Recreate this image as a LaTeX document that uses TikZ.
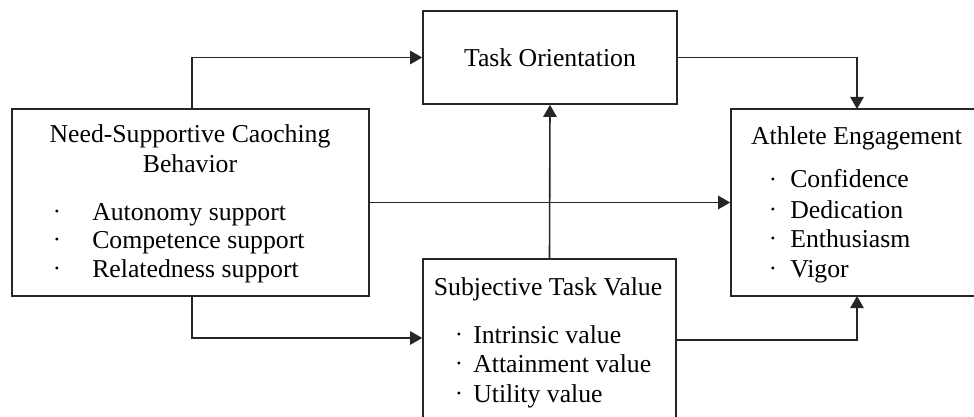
\documentclass[tikz,border=0pt]{standalone}
\usepackage{fontspec}
\setmainfont{Liberation Serif}
\usetikzlibrary{arrows.meta}
\begin{document}
\begin{tikzpicture}[x=0.75pt,y=-0.75pt,
  box/.style={draw=black!85,line width=1.2pt,rectangle,inner sep=0pt,fill=none},
  txt/.style={inner sep=0pt,font=\fontsize{19.3}{23}\selectfont},
  dot/.style={inner sep=0pt,font=\fontsize{9}{10}\selectfont},
  arr/.style={draw=black!85,line width=1.2pt,-{Triangle[length=9pt,width=10pt]}},
  ln/.style={draw=black!85,line width=1.2pt}]
\useasboundingbox (0,0) rectangle (974,417);
\clip (0,0) rectangle (974,417);
% boxes
\node[box,minimum width=357*0.75pt,minimum height=187*0.75pt] (need) at (190.5,202.5) {};
\node[box,minimum width=254*0.75pt,minimum height=93*0.75pt] (task) at (550,57.5) {};
\node[box,minimum width=253*0.75pt,minimum height=182*0.75pt] (subj) at (549.5,350) {};
\node[box,minimum width=259*0.75pt,minimum height=187*0.75pt] (ath) at (860.5,202.5) {};
% texts
\node[txt,anchor=base] (n1) at (190,143) {Need-Supportive Caoching};
\node[txt,anchor=base] (n2) at (190,172) {Behavior};
\node[dot] (nd1) at (57,213) {•};
\node[dot] (nd2) at (57,241) {•};
\node[dot] (nd3) at (57,270) {•};
\node[txt,anchor=base west] (nb1) at (92,220) {Autonomy support};
\node[txt,anchor=base west] (nb2) at (92,248) {Competence support};
\node[txt,anchor=base west] (nb3) at (92,277) {Relatedness support};
\node[txt,anchor=base] (t1) at (550,67) {Task Orientation};
\node[txt,anchor=base] (s1) at (548,295) {Subjective Task Value};
\node[dot] (sd1) at (459,336) {•};
\node[dot] (sd2) at (459,365) {•};
\node[dot] (sd3) at (459,395) {•};
\node[txt,anchor=base west] (sb1) at (473,343) {Intrinsic value};
\node[txt,anchor=base west] (sb2) at (473,372) {Attainment value};
\node[txt,anchor=base west] (sb3) at (473,402) {Utility value};
\node[txt,anchor=base] (a1) at (856.5,145) {Athlete Engagement};
\node[dot] (ad1) at (773,181) {•};
\node[dot] (ad2) at (773,211) {•};
\node[dot] (ad3) at (773,240) {•};
\node[dot] (ad4) at (773,270) {•};
\node[txt,anchor=base west] (ab1) at (790,188) {Confidence};
\node[txt,anchor=base west] (ab2) at (790,218) {Dedication};
\node[txt,anchor=base west] (ab3) at (790,247) {Enthusiasm};
\node[txt,anchor=base west] (ab4) at (790,277) {Vigor};
% connector coordinates
\coordinate (sw) at (subj.north west |- 0,338);
\coordinate (se) at (subj.north east |- 0,340);
\coordinate (ntop) at (192,109);
\coordinate (nbot) at (192,296);
\coordinate (atop) at (857,109);
\coordinate (abot) at (857,296);
% connectors
\draw[arr] (ntop) |- (task.west);
\draw[arr] (task.east) -| (atop);
\draw[arr] (need.east) -- (ath.west);
\draw[arr] (nbot) |- (sw);
\draw[arr] (subj.north) -- (task.south);
\draw[arr] (se) -| (abot);
\end{tikzpicture}
\end{document}
